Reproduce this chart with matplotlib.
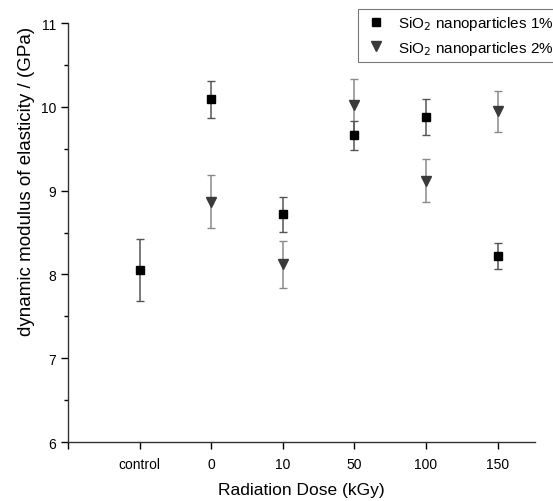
import numpy as np
import matplotlib
matplotlib.use("Agg")
import matplotlib.pyplot as plt
from matplotlib.ticker import MultipleLocator
from matplotlib.lines import Line2D

plt.rcParams['font.family'] = ['Liberation Sans', 'DejaVu Sans']

categories = ["control", "0", "10", "50", "100", "150"]
sio2_1 = [8.05, 10.09, 8.72, 9.66, 9.88, 8.22]
sio2_1_err = [0.37, 0.22, 0.21, 0.17, 0.22, 0.155]
sio2_2 = [np.nan, 8.87, 8.12, 10.02, 9.12, 9.945]
sio2_2_err = [np.nan, 0.32, 0.28, 0.31, 0.26, 0.25]

fig = plt.figure(figsize=(5.53, 5.02), dpi=100)
ax = fig.add_axes([0.123, 0.1175, 0.844, 0.8345])

x = np.arange(1, len(categories) + 1)

ax.errorbar(x, sio2_2, yerr=sio2_2_err, fmt='v', color='#3a3a3a', ms=7,
            ecolor='#8a8a8a', elinewidth=1.1, capsize=3, capthick=1.0,
            zorder=3)
ax.errorbar(x, sio2_1, yerr=sio2_1_err, fmt='s', color='black', ms=6,
            ecolor='#555555', elinewidth=1.1, capsize=3, capthick=1.0,
            zorder=4)

ax.set_xlim(0, 6.52)
ax.set_ylim(6, 11)
ax.set_xticks(np.concatenate([[0], x]))
ax.set_xticklabels([""] + categories, fontsize=10)
ax.yaxis.set_major_locator(MultipleLocator(1))
ax.yaxis.set_minor_locator(MultipleLocator(0.5))
ax.tick_params(axis='y', which='major', length=5, width=1, labelsize=10, direction='out')
ax.tick_params(axis='y', which='minor', length=3, width=1, direction='out')
ax.tick_params(axis='x', which='major', length=5, width=1, direction='out', pad=6)

for s in ['top', 'right']:
    ax.spines[s].set_visible(False)
for s in ['left', 'bottom']:
    ax.spines[s].set_linewidth(1.0)
    ax.spines[s].set_color('#333333')

ax.set_xlabel('Radiation Dose (kGy)', fontsize=12.5, labelpad=8)
ax.set_ylabel('dynamic modulus of elasticity / (GPa)', fontsize=13.5)
ax.yaxis.set_label_coords(-0.07, 0.625)

handles = [
    Line2D([], [], marker='s', color='black', ls='none', ms=5.5),
    Line2D([], [], marker='v', color='#3a3a3a', ls='none', ms=6.5),
]
labels = ['SiO$_2$ nanoparticles 1%', 'SiO$_2$ nanoparticles 2%']
leg = fig.legend(handles, labels, loc='upper left',
                 bbox_to_anchor=(0.647, 0.981), fontsize=11, frameon=True,
                 fancybox=False, borderaxespad=0, handletextpad=0.6,
                 handlelength=1.7, borderpad=0.35, labelspacing=0.45)
leg.get_frame().set_edgecolor('#555555')
leg.get_frame().set_linewidth(0.8)

fig.savefig('out.png', dpi=100)
